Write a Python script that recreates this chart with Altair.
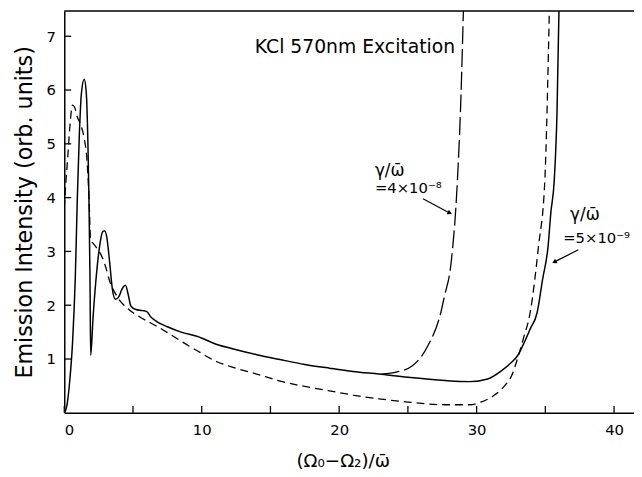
import altair as alt
import pandas as pd

# ---- data ----
solid_x = [0, 0.2, 0.4, 0.6, 0.8, 0.95, 1.1, 1.25, 1.45, 1.6, 1.72, 1.8, 1.87, 1.92,
           2.1, 2.35, 2.6, 2.8, 2.95, 3.1, 3.3, 3.5, 3.72, 3.95, 4.2, 4.45, 4.65, 4.85,
           5.2, 5.7, 6.0, 6.3, 6.7, 7.5, 8.5, 9.7, 11.0, 12.1, 14.0, 15.7, 17.5, 19.3,
           21.0, 22.9, 25.0, 27.7, 29.5, 30.8, 31.8, 32.5, 33.0, 33.45, 33.9, 34.4,
           34.8, 35.2, 35.4, 35.65, 35.85, 36.0]
solid_y = [0, 0.15, 0.6, 1.3, 2.5, 4.0, 5.2, 5.95, 6.2, 5.95, 5.0, 3.9, 2.5, 1.07,
           1.8, 2.6, 3.15, 3.37, 3.38, 3.25, 2.8, 2.3, 2.11, 2.15, 2.3, 2.37, 2.2, 1.98,
           1.92, 1.9, 1.88, 1.78, 1.7, 1.6, 1.5, 1.42, 1.28, 1.2, 1.08, 0.99, 0.9, 0.83,
           0.77, 0.72, 0.66, 0.6, 0.58, 0.63, 0.78, 0.93, 1.07, 1.3, 1.56, 1.86,
           2.48, 3.1, 3.72, 4.33, 5.6, 7.6]

short_x = [0, 0.12, 0.25, 0.4, 0.6, 0.75, 0.95, 1.2, 1.45, 1.65, 1.8, 1.92, 2.1, 2.4,
           2.65, 3.0, 3.3, 3.8, 4.7, 5.5, 6.8, 8.7, 9.7, 11.1, 12.1, 14.0, 15.7, 17.5,
           19.3, 21.0, 22.9, 25.0, 27.7, 29.5, 30.3, 31.3, 32.2, 32.45, 33.05, 33.4,
           33.9, 34.5, 34.96, 35.3]
short_y = [3.8, 4.3, 4.75, 5.3, 5.72, 5.68, 5.5, 5.35, 5.1, 4.7, 4.0, 3.2, 3.15, 3.05,
           2.95, 2.72, 2.45, 2.18, 1.92, 1.78, 1.6, 1.3, 1.15, 0.95, 0.86, 0.72, 0.59, 0.49,
           0.41, 0.33, 0.26, 0.2, 0.15, 0.15, 0.2, 0.33, 0.55, 0.64, 1.07, 1.38,
           1.87, 3.09, 4.31, 7.6]

long_x = [23.1, 24.2, 25.3, 26.46, 27.4, 27.66, 28.14, 28.6, 28.85, 29.05]
long_y = [0.72, 0.76, 0.87, 1.25, 1.87, 2.17, 2.78, 4.31, 5.8, 7.6]

x_label_values = [0, 10, 20, 30, 40]
x_tick_values = [0, 5, 10, 15, 20, 25, 30, 35, 40]
y_tick_values = [1, 2, 3, 4, 5, 6, 7]

title_text = "KCl 570nm Excitation"
ann_text = ["γ/ω̄", "=4×10⁻⁸", "γ/ω̄", "=5×10⁻⁹"]
ann_size = [17, 15, 17, 15]
ann_x = [22.6, 22.6, 36.8, 36.3]
ann_y = [4.5, 4.17, 3.67, 3.25]
arrow_x = [26.1, 37.4]
arrow_y = [3.98, 3.03]
arrow_x2 = [28.0, 35.7]
arrow_y2 = [3.72, 2.81]
arrow_angle = [117, 242]

FONT = "DejaVu Sans"
X_MAX = 41.45
Y_MAX = 7.47

xs = alt.Scale(domain=[0, X_MAX], nice=False, zero=False)
ys = alt.Scale(domain=[0, Y_MAX], nice=False, zero=False)

solid_df = pd.DataFrame({"x": solid_x, "y": solid_y})
short_df = pd.DataFrame({"x": short_x, "y": short_y})
long_df = pd.DataFrame({"x": long_x, "y": long_y})

x_axis = alt.Axis(values=x_label_values, ticks=False, grid=False, domainColor="black",
                  domainWidth=1.5, labelFont=FONT, labelFontSize=15, labelColor="black",
                  labelPadding=10, title="(Ω₀−Ω₂)/ω̄", titleFont=FONT, titleFontSize=18.5,
                  titleFontWeight="normal", titleColor="black", titlePadding=14,
                  titleX=282, titleAlign="center")
y_axis = alt.Axis(values=y_tick_values, ticks=False, grid=False, domainColor="black",
                  domainWidth=1.5, labelFont=FONT, labelFontSize=15, labelColor="black",
                  labelPadding=9, title="Emission Intensity (orb. units)", titleFont=FONT,
                  titleFontSize=22.5, titleFontWeight="normal", titleColor="black",
                  titlePadding=10)


def X(field):
    return alt.X(field, scale=xs, axis=x_axis)


def Y(field):
    return alt.Y(field, scale=ys, axis=y_axis)


solid = alt.Chart(solid_df).mark_line(color="black", strokeWidth=1.5, interpolate="monotone",
                                      clip=True).encode(x=X("x:Q"), y=Y("y:Q"))
short = alt.Chart(short_df).mark_line(color="black", strokeWidth=1.3, strokeDash=[8, 5],
                                      interpolate="monotone", clip=True).encode(
    x=X("x:Q"), y=Y("y:Q"))
longd = alt.Chart(long_df).mark_line(color="black", strokeWidth=1.3, strokeDash=[18, 5],
                                     interpolate="monotone", clip=True).encode(
    x=X("x:Q"), y=Y("y:Q"))

ytick_df = pd.DataFrame({"y": y_tick_values})
ytick = alt.Chart(ytick_df).mark_rule(color="black", strokeWidth=1.3).encode(
    y=Y("y:Q"), x=alt.value(0), x2=alt.value(7))
xtick_df = pd.DataFrame({"x": x_tick_values})
xtick = alt.Chart(xtick_df).mark_rule(color="black", strokeWidth=1.3).encode(
    x=X("x:Q"), y=alt.value(407), y2=alt.value(400))

top_border = alt.Chart(pd.DataFrame({"y": [Y_MAX]})).mark_rule(color="black", strokeWidth=1.5).encode(
    y=Y("y:Q"), x=alt.value(0), x2=alt.value(600))

title_df = pd.DataFrame({"t": [title_text], "x": [13.86], "y": [6.79]})
title = alt.Chart(title_df).mark_text(align="left", baseline="middle", font=FONT,
                                      fontSize=19, color="black").encode(
    x=X("x:Q"), y=Y("y:Q"), text="t:N")

ann_df = pd.DataFrame({"t": ann_text, "x": ann_x, "y": ann_y, "s": ann_size})
ann = alt.Chart(ann_df).mark_text(align="left", baseline="middle", font=FONT,
                                  color="black").encode(
    x=X("x:Q"), y=Y("y:Q"), text="t:N", size=alt.Size("s:Q", scale=None, legend=None))

arr_df = pd.DataFrame({"x": arrow_x, "y": arrow_y, "x2": arrow_x2, "y2": arrow_y2,
                       "a": arrow_angle})
arr = alt.Chart(arr_df).mark_rule(color="black", strokeWidth=1.2).encode(
    x=X("x:Q"), y=Y("y:Q"), x2="x2:Q", y2="y2:Q")
head_df = pd.DataFrame({"x": arrow_x2, "y": arrow_y2, "a": arrow_angle})
head = alt.Chart(head_df).mark_point(shape="triangle", filled=True, color="black", size=28,
                                     opacity=1).encode(
    x=X("x:Q"), y=Y("y:Q"), angle=alt.Angle("a:Q", scale=None))

chart = alt.layer(solid, short, longd, ytick, xtick, top_border, title, ann, arr, head).properties(
    width=577, height=407,
    autosize=alt.AutoSizeParams(type="none"),
    padding={"left": 57, "top": 0, "right": 0, "bottom": 62},
    background="white",
).configure_view(stroke=None)

chart.save("out.html", embed_options={"renderer": "svg", "actions": False})
